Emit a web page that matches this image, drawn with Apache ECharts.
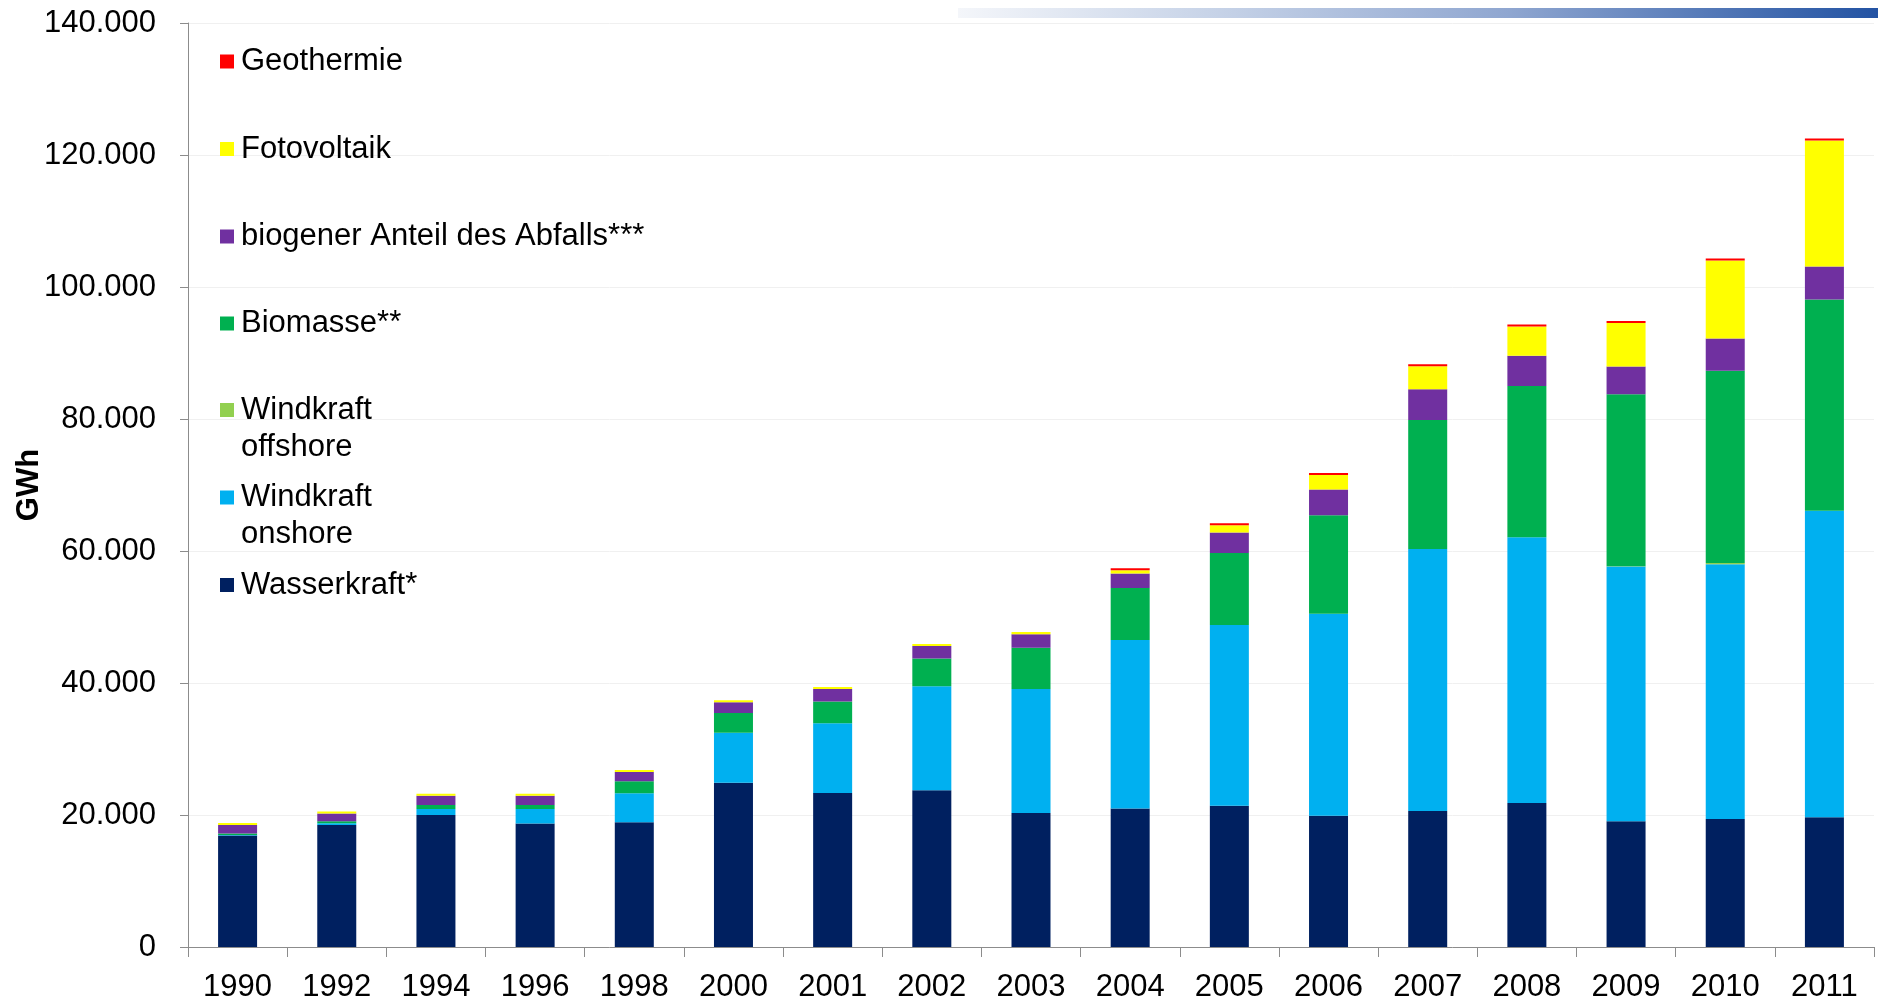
<!DOCTYPE html>
<html>
<head>
<meta charset="utf-8">
<script src="https://cdn.jsdelivr.net/npm/echarts@6/dist/echarts.min.js"></script>
<style>
  html, body { margin: 0; padding: 0; background: #ffffff; }
  #chart { width: 1878px; height: 1000px; }
</style>
</head>
<body>
<div id="chart"></div>
<script>
// ---- data (GWh) ----
const years = ['1990','1992','1994','1996','1998','2000','2001','2002','2003','2004','2005','2006','2007','2008','2009','2010','2011'];

const wasserkraft  = [16900, 18500, 20000, 18700, 18900, 24900, 23350, 23750, 20300, 21000, 21400, 19900, 20600, 21800, 19050, 19400, 19650];
const windOnshore  = [70, 260, 900, 2200, 4400, 7550, 10550, 15750, 18800, 25500, 27400, 30600, 39700, 40300, 38600, 38600, 46450];
const windOffshore = [0, 0, 0, 0, 0, 0, 0, 0, 0, 0, 0, 0, 0, 0, 40, 200, 0];
const biomasse     = [220, 300, 600, 600, 1800, 3000, 3300, 4200, 6250, 7900, 10900, 14900, 19550, 22900, 26050, 29100, 32000];
const biogenAbfall = [1310, 1150, 1400, 1400, 1400, 1650, 1900, 1900, 2050, 2200, 3100, 3900, 4650, 4600, 4200, 4900, 5000];
const fotovoltaik  = [1, 3, 7, 12, 35, 60, 80, 160, 310, 500, 1100, 2200, 3500, 4400, 6600, 11800, 19100];
const geothermie   = [null, null, null, null, null, null, null, null, null, 0.2, 0.2, 0.4, 0.4, 18, 19, 28, 19];

const seriesNames = ['Wasserkraft*', 'Windkraft onshore', 'Windkraft offshore', 'Biomasse**', 'biogener Anteil des Abfalls***', 'Fotovoltaik', 'Geothermie'];
const seriesData  = [wasserkraft, windOnshore, windOffshore, biomasse, biogenAbfall, fotovoltaik, geothermie];
const seriesColors = ['#002060', '#00B0F0', '#92D050', '#00B050', '#7030A0', '#FFFF00', '#FF0000'];

// legend (top to bottom) and its displayed labels
const legendOrder  = ['Geothermie', 'Fotovoltaik', 'biogener Anteil des Abfalls***', 'Biomasse**', 'Windkraft offshore', 'Windkraft onshore', 'Wasserkraft*'];
const legendLabels = ['Geothermie', 'Fotovoltaik', 'biogener Anteil des Abfalls***', 'Biomasse**', 'Windkraft\noffshore', 'Windkraft\nonshore', 'Wasserkraft*'];

const yTicks = { min: 0, max: 140000, interval: 20000 };
const yAxisName = 'GWh';

// ---- chart ----
const FONT = "'Liberation Sans', Arial, sans-serif";
const chart = echarts.init(document.getElementById('chart'), null, { renderer: 'canvas' });

function fmtThousands(v) {
  const s = String(Math.round(v));
  return s.replace(/\B(?=(\d{3})+(?!\d))/g, '.');
}

// legend item first-line centres
const legendFirstLineY = [61.5, 149, 236.5, 323.5, 410, 497.5, 585];
const LH = 37;
const legends = legendOrder.map((name, i) => {
  const label = legendLabels[i];
  const multi = label.indexOf('\n') >= 0;
  const text = multi ? '\n' + label : label;
  const lines = text.split('\n').length;
  const half = (lines * LH) / 2;
  return {
    data: [name],
    orient: 'vertical',
    left: 220,
    top: legendFirstLineY[i] - half,
    padding: 0,
    itemWidth: 14,
    itemHeight: 14,
    icon: 'rect',
    selectedMode: false,
    formatter: () => text,
    textStyle: {
      fontFamily: FONT,
      fontSize: 31,
      color: '#000',
      lineHeight: LH,
      padding: [0, 0, 0, 2]
    }
  };
});

const series = seriesNames.map((name, i) => ({
  name: name,
  type: 'bar',
  stack: 'total',
  barWidth: 39,
  barMinHeight: (name === 'Fotovoltaik' || name === 'Geothermie') ? 2 : 0,
  data: seriesData[i],
  itemStyle: { color: seriesColors[i] },
  emphasis: { disabled: true },
  animation: false
}));

chart.setOption({
  animation: false,
  backgroundColor: '#ffffff',
  graphic: [{
    type: 'rect',
    shape: { x: 958, y: 8, width: 920, height: 10 },
    style: {
      fill: new echarts.graphic.LinearGradient(0, 0, 1, 0, [
        { offset: 0, color: '#F4F6FA' },
        { offset: 0.3, color: '#C3D0E6' },
        { offset: 0.6, color: '#8FA6D0' },
        { offset: 1, color: '#2353A3' }
      ])
    },
    silent: true
  }],
  legend: legends,
  grid: {
    left: 188, right: 4, top: 23, bottom: 53,
    containLabel: false,
    outerBoundsMode: 'none'
  },
  xAxis: {
    type: 'category',
    data: years,
    boundaryGap: true,
    axisLine: { show: true, lineStyle: { color: '#8C8C8C', width: 1 } },
    axisTick: { show: true, length: 10, alignWithLabel: false, lineStyle: { color: '#8C8C8C' } },
    axisLabel: { fontFamily: FONT, fontSize: 31, color: '#000', margin: 25, interval: 0 },
    splitLine: { show: false }
  },
  yAxis: {
    type: 'value',
    min: yTicks.min,
    max: yTicks.max,
    interval: yTicks.interval,
    name: yAxisName,
    nameLocation: 'middle',
    nameRotate: 90,
    nameGap: 143,
    nameMoveOverlap: false,
    nameTextStyle: { fontFamily: FONT, fontSize: 31, fontWeight: 'bold', color: '#000' },
    axisLine: { show: true, lineStyle: { color: '#8C8C8C', width: 1 } },
    axisTick: { show: true, length: 8, lineStyle: { color: '#8C8C8C' } },
    axisLabel: { fontFamily: FONT, fontSize: 31, color: '#000', margin: 32, formatter: fmtThousands },
    splitLine: { show: true, lineStyle: { color: '#F0F0F0', width: 1 } }
  },
  series: series
});
</script>
</body>
</html>
